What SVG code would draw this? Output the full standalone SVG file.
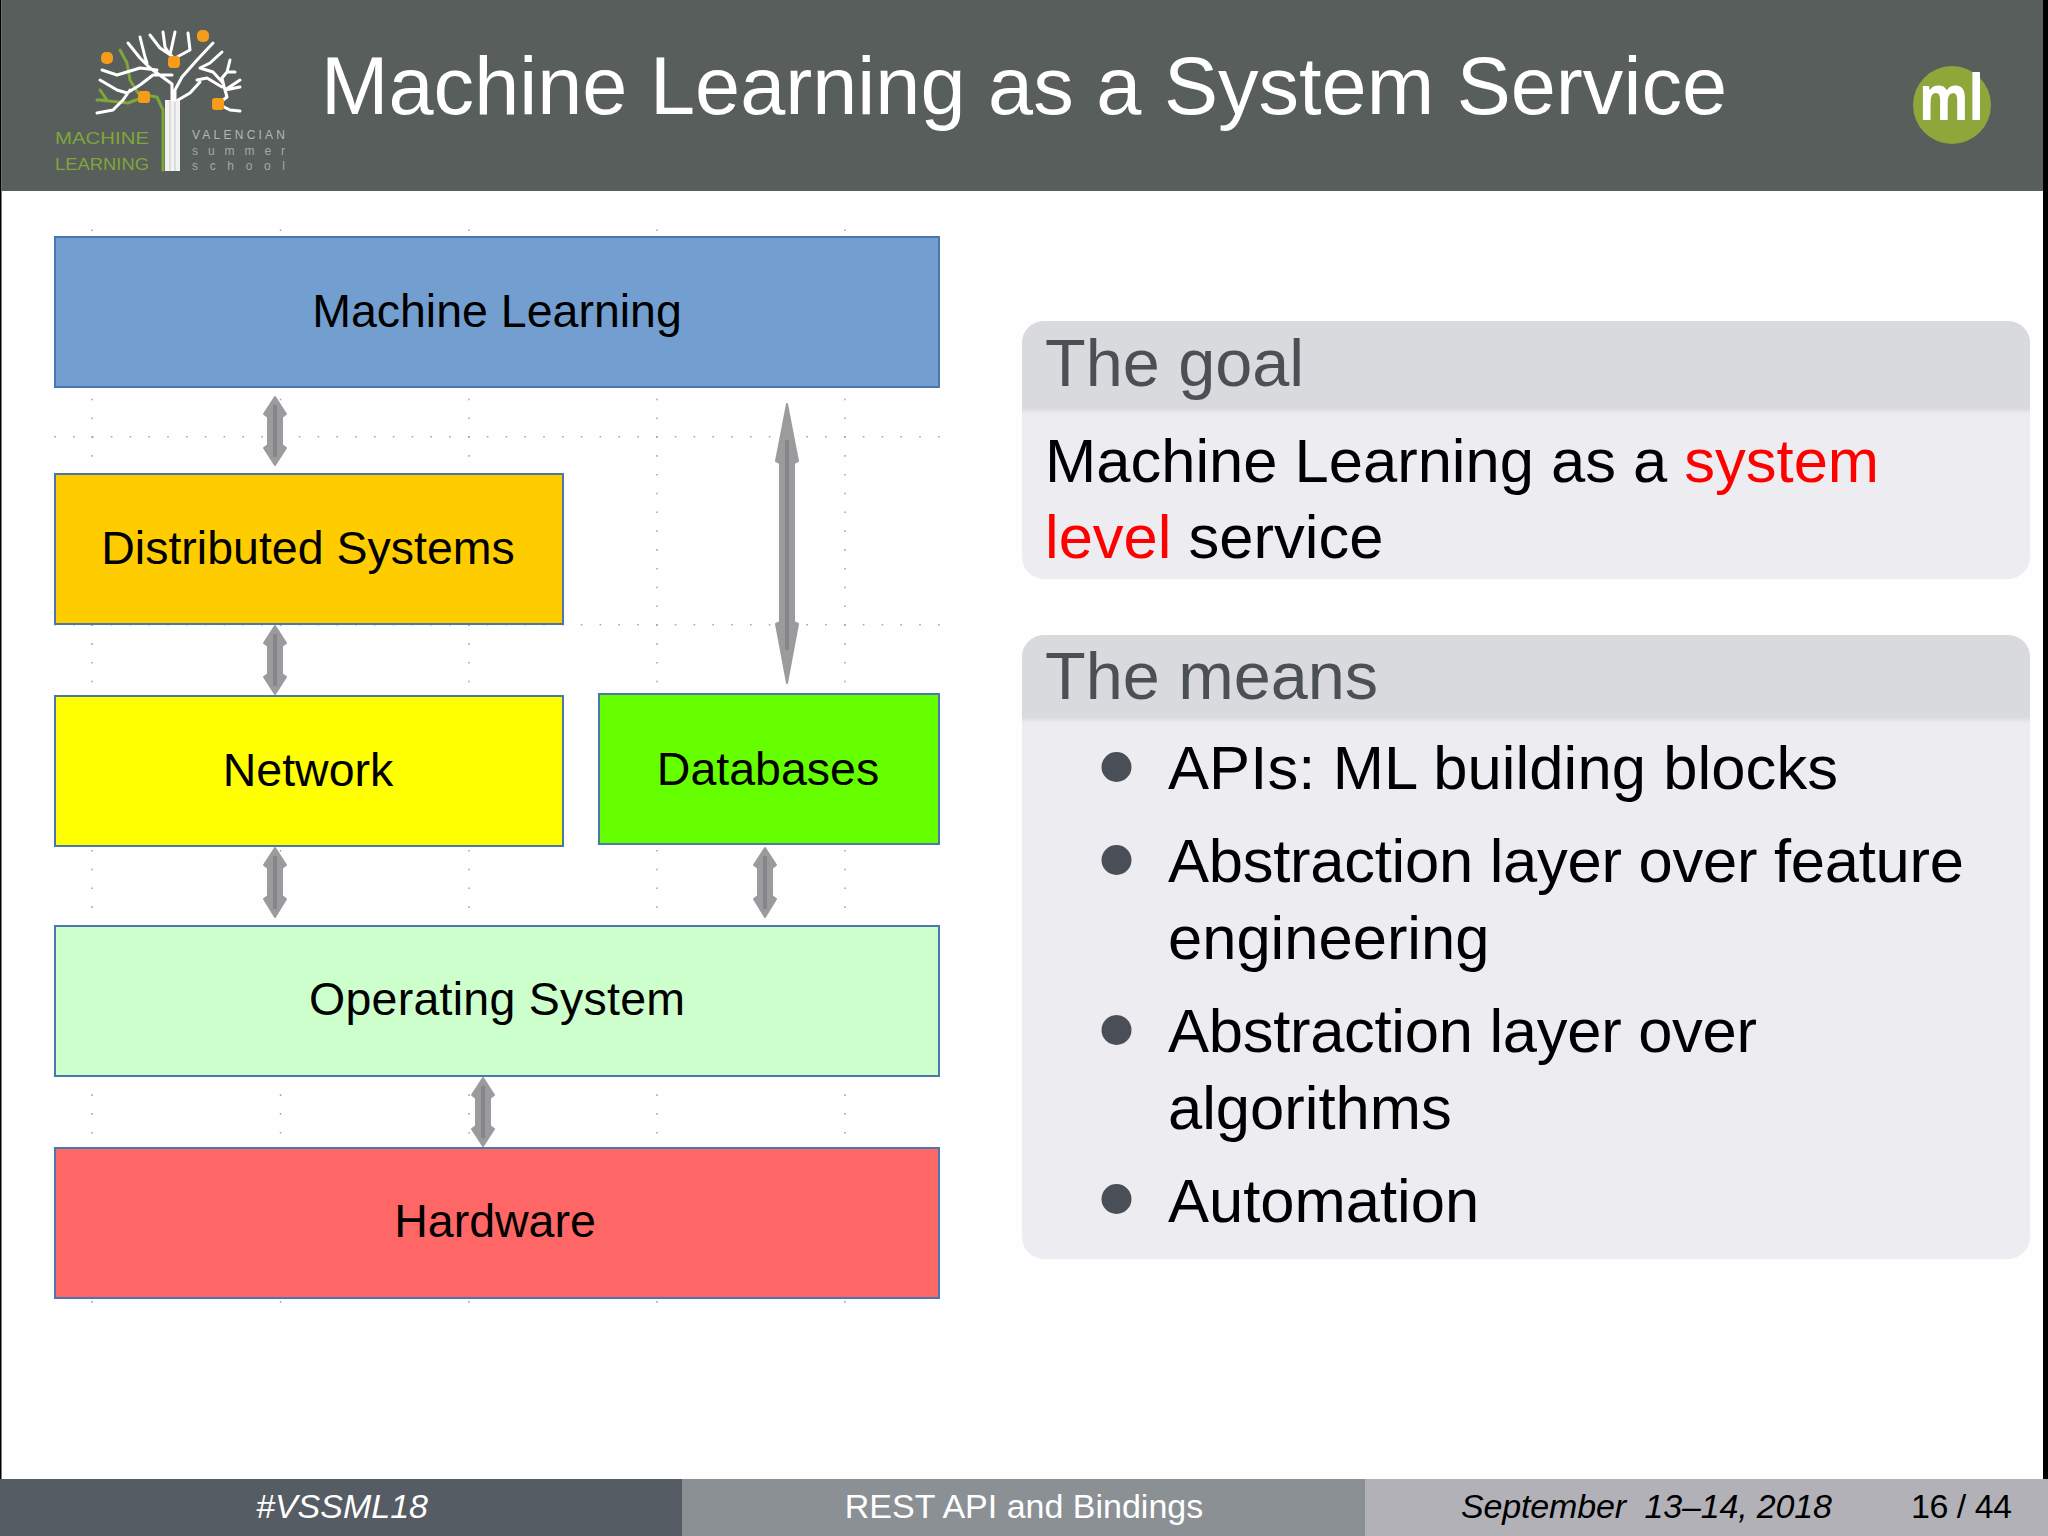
<svg xmlns="http://www.w3.org/2000/svg" width="2048" height="1536" viewBox="0 0 2048 1536">
<style>
text{font-family:"Liberation Sans",Arial,sans-serif;white-space:pre}
.box{stroke:#4a77ad;stroke-width:2}
.lbl{font-size:46.5px;fill:#000;text-anchor:middle}
.grid{fill:none;stroke:#a8a8a8;stroke-width:1.6;stroke-dasharray:1.6 17.2}
.arrow{fill:#9b9b9d;stroke:#9b9b9d;stroke-width:2;stroke-linejoin:round}
.core{fill:none;stroke:#85858a;stroke-width:4}
.bh{font-size:66.6px;fill:#4b5055}
.bt{font-size:61.5px;fill:#000}
.bul{fill:#4a4f57}
.blockbody{fill:#ededf1}
.blockhead{fill:#d9dade}
.foot{font-size:34px}
.wb{fill:none;stroke:#fff;stroke-width:3;stroke-linecap:round;stroke-linejoin:round}
.gb{fill:none;stroke:#7fa63a;stroke-width:3;stroke-linecap:round;stroke-linejoin:round}
.od{fill:#f59c1a}
</style>
<defs>
<linearGradient id="fade" x1="0" y1="0" x2="0" y2="1"><stop offset="0" stop-color="#d9dade"/><stop offset="1" stop-color="#ededf1"/></linearGradient>
</defs>
<rect width="2048" height="1536" fill="#000"/>
<rect id="slide" x="1.5" y="0" width="2041.5" height="1536" fill="#fefefe"/>
<g id="header">
<rect x="1.5" y="0" width="2041.5" height="191" fill="#575e5c"/>
<text x="321" y="114" font-size="81" fill="#fff" textLength="1406">Machine Learning as a System Service</text>
</g>
<g id="logo-valencian">
<rect x="165" y="100" width="15" height="71" fill="#f2f2f2"/>
<path d="M170 100V171M175 100V171" stroke="#c9c9c9" stroke-width="1" fill="none"/>
<path class="gb" d="M120 50L127 63L130 80L138 93L144 97M100 90L107 100L97 100M144 97L128 103L100 100M144 95L157 97L163 110V170"/>
<path class="wb" d="M163 32L165 47L170 55L175 32M150 35L160 48L172 56M140 37L145 57L147 63M128 43L140 58L150 68L172 84V100M102 70L117 75L140 68L157 70M100 80L117 90L127 93L140 85L153 75L172 75M97 113L113 110L123 100L130 90M188 33L190 50L177 57M213 43L197 60L182 77L175 90V100M222 52L210 63L200 68L213 72L223 83L227 97L218 104M230 60L227 72L235 72M227 72L222 78L225 90L240 80M225 90L240 87M197 80L207 78L222 87M200 82L190 93L178 100M218 104L230 110L240 111"/>
<rect class="od" x="101" y="52" width="12" height="12" rx="5"/><rect class="od" x="197" y="30" width="12" height="12" rx="5"/><rect class="od" x="168" y="56" width="12" height="12" rx="4"/><rect class="od" x="138" y="91" width="12" height="12" rx="3"/><rect class="od" x="212" y="98" width="12" height="12" rx="3"/>
<text x="55" y="144" font-size="17" fill="#7fa63a" textLength="94" lengthAdjust="spacingAndGlyphs">MACHINE</text>
<text x="55" y="170" font-size="17" fill="#7fa63a" textLength="94" lengthAdjust="spacingAndGlyphs">LEARNING</text>
<text x="192" y="139" font-size="12" fill="#b4b8b8" textLength="93">VALENCIAN</text>
<text x="192" y="155" font-size="12" fill="#a4a8a8" textLength="93">summer</text>
<text x="192" y="170" font-size="12" fill="#a4a8a8" textLength="93">school</text>
</g>
<g id="logo-ml">
<circle cx="1952" cy="105" r="39" fill="#8fa63a"/>
<text x="1919" y="120" font-size="62" font-weight="700" fill="#fff" textLength="65" lengthAdjust="spacingAndGlyphs" style="font-family:'Open Sans',sans-serif">ml</text>
</g>
<g id="grid">
<path class="grid" d="M92 229.5V1303M280.6 229.5V1303M469 229.5V1303M657 229.5V1303M845 229.5V1303"/>
<path class="grid" d="M54.4 436.7H940M54.4 624.7H940"/>
</g>
<g id="node-machine-learning"><rect class="box" x="55" y="237" width="884" height="150" fill="#729fcf"/><text class="lbl" x="497" y="327">Machine Learning</text></g>
<g id="node-distributed-systems"><rect class="box" x="55" y="474" width="508" height="150" fill="#ffcc00"/><text class="lbl" x="308" y="564">Distributed Systems</text></g>
<g id="node-network"><rect class="box" x="55" y="696" width="508" height="150" fill="#ffff00"/><text class="lbl" x="308" y="786">Network</text></g>
<g id="node-databases"><rect class="box" x="599" y="694" width="340" height="150" fill="#66ff00"/><text class="lbl" x="768" y="785">Databases</text></g>
<g id="node-operating-system"><rect class="box" x="55" y="926" width="884" height="150" fill="#ccffcc"/><text class="lbl" x="497" y="1015" textLength="376">Operating System</text></g>
<g id="node-hardware"><rect class="box" x="55" y="1148" width="884" height="150" fill="#ff6666"/><text class="lbl" x="495" y="1237">Hardware</text></g>
<g id="connectors">
<path class="arrow" d="M275 397L286 414L282 417V445L286 448L275 465L264 448L268 445V417L264 414Z"/><path class="core" d="M275 405V457"/>
<path class="arrow" d="M275 626L286 643L282 646V674L286 677L275 694L264 677L268 674V646L264 643Z"/><path class="core" d="M275 634V686"/>
<path class="arrow" d="M275 848L286 865L282 868V896L286 899L275 917L264 899L268 896V868L264 865Z"/><path class="core" d="M275 856V909"/>
<path class="arrow" d="M765 848L776 865L772 868V896L776 899L765 917L754 899L758 896V868L754 865Z"/><path class="core" d="M765 856V909"/>
<path class="arrow" d="M483 1078L494 1095L490 1098V1126L494 1129L483 1146L472 1129L476 1126V1098L472 1095Z"/><path class="core" d="M483 1086V1138"/>
<path class="arrow" d="M787 404L798 461L794 463V622L798 624L787 683L776 624L780 622V463L776 461Z"/><path class="core" d="M787 440V650"/>
</g>
<g id="block-goal">
<rect class="blockbody" x="1022" y="321" width="1008" height="258" rx="22"/>
<path class="blockhead" d="M1022 408V343A22 22 0 0 1 1044 321H2008A22 22 0 0 1 2030 343V408Z"/>
<rect x="1022" y="408" width="1008" height="6" fill="url(#fade)"/>
<text class="bh" x="1045" y="386">The goal</text>
<text class="bt" x="1045" y="482">Machine Learning as a <tspan fill="#f00">system</tspan></text>
<text class="bt" x="1045" y="558"><tspan fill="#f00">level</tspan> service</text>
</g>
<g id="block-means">
<rect class="blockbody" x="1022" y="635" width="1008" height="624" rx="22"/>
<path class="blockhead" d="M1022 717V657A22 22 0 0 1 1044 635H2008A22 22 0 0 1 2030 657V717Z"/>
<rect x="1022" y="717" width="1008" height="6" fill="url(#fade)"/>
<text class="bh" x="1045" y="699">The means</text>
<circle class="bul" cx="1116.5" cy="767" r="15"/>
<circle class="bul" cx="1116.5" cy="860" r="15"/>
<circle class="bul" cx="1116.5" cy="1030" r="15"/>
<circle class="bul" cx="1116.5" cy="1199" r="15"/>
<text class="bt" x="1168" y="789" textLength="670">APIs: ML building blocks</text>
<text class="bt" x="1168" y="882" textLength="796">Abstraction layer over feature</text>
<text class="bt" x="1168" y="959">engineering</text>
<text class="bt" x="1168" y="1052" textLength="589">Abstraction layer over</text>
<text class="bt" x="1168" y="1129">algorithms</text>
<text class="bt" x="1168" y="1222">Automation</text>
</g>
<g id="footer">
<rect x="0" y="1479" width="682" height="57" fill="#555c63"/>
<rect x="682" y="1479" width="683" height="57" fill="#8b9095"/>
<rect x="1365" y="1479" width="683" height="57" fill="#b1b1b7"/>
<text class="foot" x="342" y="1518" fill="#fff" font-style="italic" text-anchor="middle">#VSSML18</text>
<text class="foot" x="1024" y="1518" fill="#fff" text-anchor="middle">REST API and Bindings</text>
<text class="foot" x="1461" y="1518" fill="#000" font-style="italic" textLength="371">September  13–14, 2018</text>
<text class="foot" x="1911" y="1518" fill="#000" textLength="101">16 / 44</text>
</g>
</svg>
